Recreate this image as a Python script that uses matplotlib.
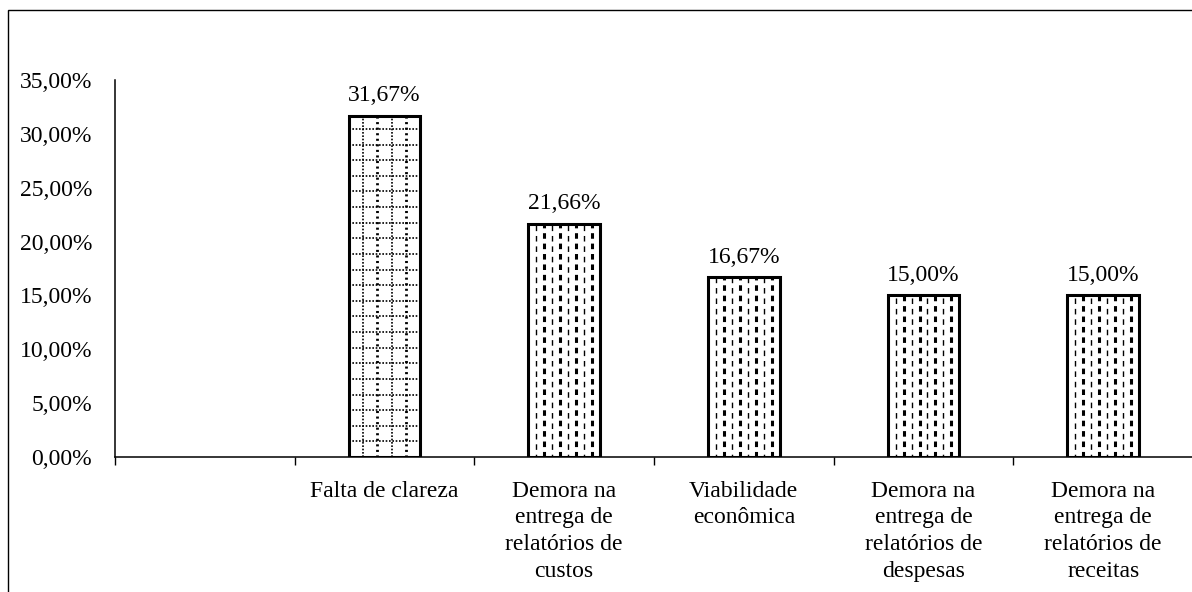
import matplotlib.pyplot as plt
import numpy as np
from matplotlib.patches import Rectangle

plt.rcParams['font.family'] = ['Liberation Serif', 'DejaVu Serif']
plt.rcParams['lines.scale_dashes'] = False

# dados
categorias = ["", "Falta de clareza",
              "Demora na\nentrega de\nrelatórios de\ncustos",
              "Viabilidade\neconômica",
              "Demora na\nentrega de\nrelatórios de\ndespesas",
              "Demora na\nentrega de\nrelatórios de\nreceitas"]
valores = [31.67, 21.66, 16.67, 15.00, 15.00]
yticks = [0, 5, 10, 15, 20, 25, 30, 35]

fs = 17
largura = 0.4

fig = plt.figure(figsize=(11.92, 5.92), dpi=100)
ax = fig.add_axes([115/1192, 1 - 457/592, 1078/1192, 377/592])

# moldura externa do grafico
fig.patches.append(Rectangle((8/1192, -0.1), 1.2, 1.1 - 10/592, transform=fig.transFigure,
                             fill=False, lw=1.0, ec='black'))

x = np.arange(1, len(categorias))
barras = ax.bar(x, valores, width=largura, color='white', edgecolor='black', lw=2.2, zorder=3)

# padrao de preenchimento (linhas tracejadas recortadas pela barra)
for i, b in enumerate(barras):
    x0, w, h = b.get_x(), b.get_width(), b.get_height()
    if i == 0:
        for k in range(1, 5):
            xx = x0 + k * w / 5
            ln, = ax.plot([xx, xx], [0, h], color='black', lw=1.2 if k % 2 else 2.0,
                          ls=(0, (1.2, 1.2)) if k % 2 else (0, (1.5, 2.5)), zorder=3.5)
            ln.set_clip_path(b)
        for yy in np.arange(1.45, h, 1.45):
            ln, = ax.plot([x0, x0 + w], [yy, yy], color='black', lw=1.2,
                          ls=(0, (1.2, 1.2)), zorder=3.5)
            ln.set_clip_path(b)
    else:
        for k in range(1, 9):
            xx = x0 + k * w / 9
            ln, = ax.plot([xx, xx], [0, h], color='black', lw=2.2 if k % 2 == 0 else 1.0,
                          ls=(0, (4, 3.5)) if k % 2 == 0 else (2, (4, 3.5)), zorder=3.5)
            ln.set_clip_path(b)

for xi, v in zip(x, valores):
    ax.annotate(f"{v:.2f}%".replace('.', ','), (xi, v), xytext=(0, 7),
                textcoords='offset points', ha='center', va='bottom', fontsize=fs)

ax.set_xlim(-0.5, len(categorias) - 0.5)
ax.set_ylim(0, 35)
ax.set_yticks(yticks)
ax.set_yticklabels([f"{t:.2f}%".replace('.', ',') for t in yticks], fontsize=fs)
ax.tick_params(axis='y', length=0, pad=16.5)

ax.set_xticks(np.arange(len(categorias)))
ax.set_xticklabels(categorias, fontsize=fs, linespacing=1.36, va='top')
ax.set_xticks(np.arange(-0.5, len(categorias)), minor=True)
ax.tick_params(axis='x', which='major', length=0, pad=17)
ax.tick_params(axis='x', which='minor', length=6, width=1, direction='out')

for s in ['top', 'right']:
    ax.spines[s].set_visible(False)
ax.spines['left'].set_linewidth(1.1)
ax.spines['bottom'].set_linewidth(1.1)

fig.savefig('out.png', dpi=100)
